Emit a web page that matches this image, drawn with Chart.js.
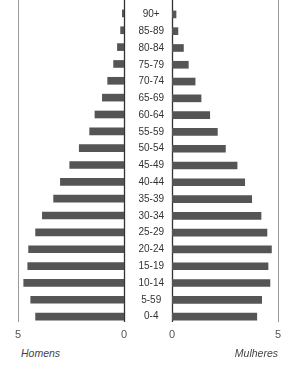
<!DOCTYPE html>
<html>
<head>
<meta charset="utf-8">
<script src="https://cdn.jsdelivr.net/npm/chart.js@4"></script>
<style>
  html, body { margin: 0; padding: 0; background: #fff; }
  #wrap { position: relative; width: 292px; height: 371px; overflow: hidden; font-family: "Liberation Sans", Arial, sans-serif; }
  .box { position: absolute; top: 0; height: 345px; }
  #boxH { left: 0; width: 127px; }
  #boxM { left: 124px; width: 168px; }
  .lbl { position: absolute; top: 347px; font-size: 10.5px; font-style: italic; color: #444; }
</style>
</head>
<body>
<div id="wrap">
  <div class="box" id="boxH"><canvas id="chartH"></canvas></div>
  <div class="box" id="boxM"><canvas id="chartM"></canvas></div>
  <div class="lbl" style="left:21px">Homens</div>
  <div class="lbl" style="right:14px">Mulheres</div>
</div>
<script>
/* Pirâmide etária: homens à esquerda, mulheres à direita */

const faixas = ["90+", "85-89", "80-84", "75-79", "70-74", "65-69", "60-64", "55-59", "50-54",
  "45-49", "40-44", "35-39", "30-34", "25-29", "20-24", "15-19", "10-14", "5-59", "0-4"];
const homens = [0.08, 0.16, 0.31, 0.49, 0.77, 1.02, 1.37, 1.62, 2.11,
  2.56, 3.0, 3.32, 3.85, 4.17, 4.5, 4.54, 4.73, 4.4, 4.17];
const mulheres = [0.19, 0.28, 0.54, 0.77, 1.09, 1.37, 1.78, 2.14, 2.52,
  3.07, 3.43, 3.76, 4.2, 4.48, 4.69, 4.53, 4.62, 4.23, 4.0];
const ticksX = [0, 5];

const corBarra = "#555555";
const corTexto = "#555555";

// linhas verticais em 0 e 5, a partir do topo da página
const linhasVerticais = {
  id: "linhasVerticais",
  beforeDatasetsDraw(chart) {
    const { ctx, chartArea, scales } = chart;
    ctx.save();
    ticksX.forEach((v) => {
      const x = Math.round(scales.x.getPixelForValue(v)) + 0.5;
      ctx.strokeStyle = v === 0 ? "#333" : "#999";
      ctx.lineWidth = v === 0 ? 1.3 : 1;
      ctx.beginPath();
      ctx.moveTo(x, 0);
      ctx.lineTo(x, chartArea.bottom - 3);
      ctx.stroke();
    });
    ctx.restore();
  },
};

function eixoX(reverse) {
  return {
    type: "linear",
    min: 0,
    max: 5,
    reverse,
    afterBuildTicks: (s) => { s.ticks = ticksX.map((v) => ({ value: v })); },
    afterFit: (s) => { s.height = 20; },
    grid: { display: false, drawTicks: false },
    border: { display: false },
    ticks: { padding: 3, color: corTexto, font: { size: 11, family: "Liberation Sans" } },
  };
}

function dataset(valores) {
  return {
    data: valores,
    backgroundColor: corBarra,
    borderWidth: 0,
    barThickness: 7,
  };
}

const comuns = {
  indexAxis: "y",
  responsive: true,
  maintainAspectRatio: false,
  animation: false,
  plugins: { legend: { display: false }, tooltip: { enabled: false } },
};

new Chart(document.getElementById("chartH"), {
  type: "bar",
  data: { labels: faixas, datasets: [dataset(homens)] },
  options: {
    ...comuns,
    layout: { padding: { left: 18, right: 3, top: 5, bottom: 0 } },
    scales: {
      x: eixoX(true),
      y: { display: false },
    },
  },
  plugins: [linhasVerticais],
});

new Chart(document.getElementById("chartM"), {
  type: "bar",
  data: { labels: faixas, datasets: [dataset(mulheres)] },
  options: {
    ...comuns,
    layout: { padding: { left: 0, right: 14, top: 5, bottom: 0 } },
    scales: {
      x: eixoX(false),
      y: {
        afterFit: (s) => { s.width = 48; },
        grid: { display: false },
        border: { display: false },
        ticks: {
          crossAlign: "center",
          padding: 0,
          color: "#333",
          font: { size: 10, family: "Liberation Sans" },
        },
      },
    },
  },
  plugins: [linhasVerticais],
});
</script>
</body>
</html>
